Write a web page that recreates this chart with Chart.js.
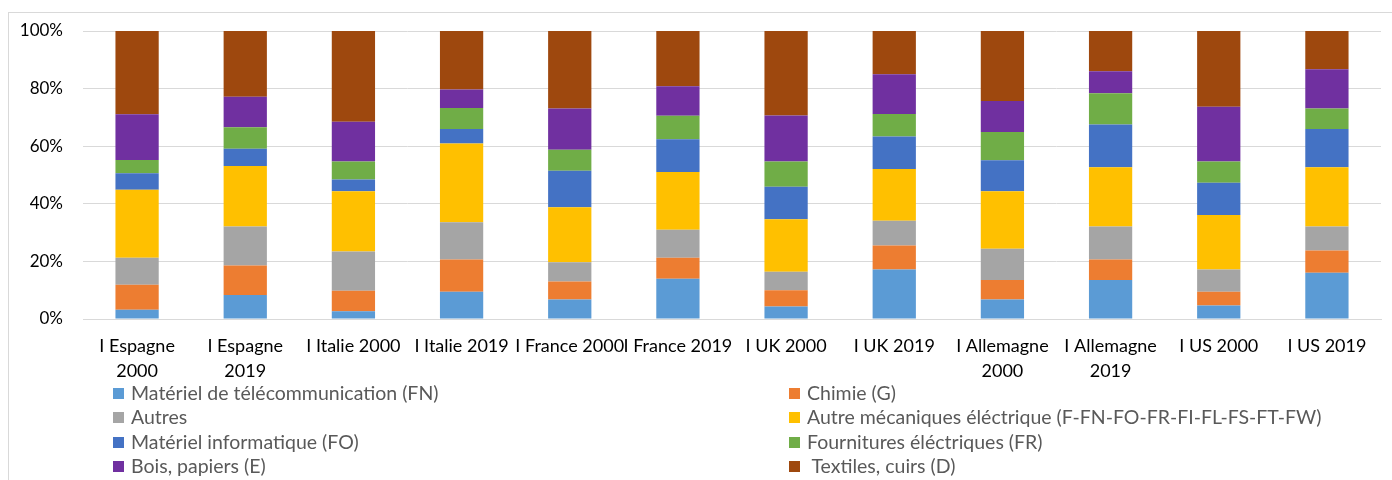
<!DOCTYPE html>
<html>
<head>
<meta charset="utf-8">
<script src="https://cdn.jsdelivr.net/npm/chart.js@4"></script>
<style>
    html, body { margin: 0; padding: 0; background: #fff; overflow: hidden; }
    #wrap { position: relative; width: 1392px; height: 480px; }
    #frame { position: absolute; left: 8px; top: 12px; width: 1500px; height: 600px; border: 1px solid #d9d9d9; }
    #chart { position: absolute; left: 0; top: 0; }
    #legend { position: absolute; left: 0; top: 0; width: 1392px; height: 480px; pointer-events: none;
              font-family: Lato, "Open Sans", sans-serif; font-size: 19.5px; color: #595959; }
    .item { position: absolute; white-space: pre; line-height: 24px; }
    .box { position: absolute; width: 11px; height: 11px; }
</style>
</head>
<body>
<div id="wrap">
    <div id="frame"></div>
    <canvas id="chart" width="1392" height="480"></canvas>
    <div id="legend"></div>
</div>
<script>
// Categories along the x axis (multi-line where the label wraps)
const categories = [
    ['I Espagne', '2000'], ['I Espagne', '2019'],
    'I Italie 2000', 'I Italie 2019',
    'I France 2000', 'I France 2019',
    'I UK 2000', 'I UK 2019',
    ['I Allemagne', '2000'], ['I Allemagne', '2019'],
    'I US 2000', 'I US 2019'
];

// Share of each sector (%) per country/year
const telecomFN    = [3.2, 8.3, 2.7, 9.5, 6.8, 14.0, 4.3, 17.2, 6.8, 13.5, 4.7, 16.1];
const chimieG      = [8.7, 10.3, 7.1, 11.2, 6.2, 7.3, 5.7, 8.3, 6.7, 7.2, 4.8, 7.7];
const autres       = [9.4, 13.5, 13.6, 12.9, 6.7, 9.7, 6.4, 8.6, 10.9, 11.4, 7.7, 8.3];
const autreMeca    = [23.6, 21.0, 21.0, 27.3, 19.1, 20.0, 18.2, 18.0, 20.0, 20.6, 18.9, 20.6];
const informatFO   = [5.7, 6.0, 4.0, 5.1, 12.7, 11.4, 11.3, 11.3, 10.7, 14.8, 11.2, 13.3];
const fournitFR    = [4.6, 7.5, 6.3, 7.3, 7.3, 8.2, 8.8, 7.8, 9.8, 10.9, 7.4, 7.1];
const boisPapiersE = [15.9, 10.6, 13.8, 6.4, 14.3, 10.2, 16.0, 13.8, 10.8, 7.6, 19.0, 13.6];
const textilesD    = [28.9, 22.8, 31.5, 20.3, 26.9, 19.2, 29.3, 15.0, 24.3, 14.0, 26.3, 13.3];

const yTicks = [0, 20, 40, 60, 80, 100];

const series = [
    { label: 'Matériel de télécommunication (FN)', data: telecomFN, color: '#5B9BD5' },
    { label: 'Chimie (G)', data: chimieG, color: '#ED7D31' },
    { label: 'Autres', data: autres, color: '#A5A5A5' },
    { label: 'Autre mécaniques éléctrique (F-FN-FO-FR-FI-FL-FS-FT-FW)', data: autreMeca, color: '#FFC000' },
    { label: 'Matériel informatique (FO)', data: informatFO, color: '#4472C4' },
    { label: 'Fournitures éléctriques (FR)', data: fournitFR, color: '#70AD47' },
    { label: 'Bois, papiers (E)', data: boisPapiersE, color: '#7030A0' },
    { label: ' Textiles, cuirs (D)', data: textilesD, color: '#9E480E' }
];

const FONT = 'Lato, "Open Sans", sans-serif';
const gridColor = '#d9d9d9';

const chart = new Chart(document.getElementById('chart'), {
    type: 'bar',
    data: {
        labels: categories,
        datasets: series.map(s => ({
            label: s.label,
            data: s.data,
            backgroundColor: s.color,
            borderWidth: 0,
            categoryPercentage: 1,
            barPercentage: 0.4
        }))
    },
    options: {
        responsive: false,
        animation: false,
        layout: { padding: { left: 0, top: 31, right: 11, bottom: 101 } },
        scales: {
            x: {
                stacked: true,
                grid: { display: false, drawTicks: false },
                border: { color: gridColor, width: 1 },
                ticks: {
                    color: '#000',
                    font: { family: FONT, size: 18, lineHeight: 25 / 18 },
                    padding: 15,
                    maxRotation: 0,
                    autoSkip: false
                },
                afterFit: scale => { scale.height = 60; }
            },
            y: {
                stacked: true,
                min: 0,
                max: 100,
                afterBuildTicks: scale => { scale.ticks = yTicks.map(v => ({ value: v })); },
                grid: { color: gridColor, lineWidth: 1, drawTicks: false },
                border: { display: false },
                ticks: {
                    color: '#000',
                    font: { family: FONT, size: 17 },
                    padding: 20,
                    callback: v => v + '%'
                },
                afterFit: scale => { scale.width = 83; }
            }
        },
        plugins: {
            legend: { display: false },
            tooltip: { enabled: false }
        }
    }
});

// Legend laid out in two columns, row by row, in dataset order
const legendEl = document.getElementById('legend');
const colX = [113, 789];
const rowY = [394, 418, 443, 467];
chart.data.datasets.forEach((ds, i) => {
    const x = colX[i % 2];
    const y = rowY[Math.floor(i / 2)];
    const box = document.createElement('div');
    box.className = 'box';
    box.style.left = x + 'px';
    box.style.top = (y - 6) + 'px';
    box.style.background = ds.backgroundColor;
    const txt = document.createElement('div');
    txt.className = 'item';
    txt.style.left = (x + 18) + 'px';
    txt.style.top = (y - 13) + 'px';
    txt.textContent = ds.label;
    legendEl.appendChild(box);
    legendEl.appendChild(txt);
});
</script>
</body>
</html>
